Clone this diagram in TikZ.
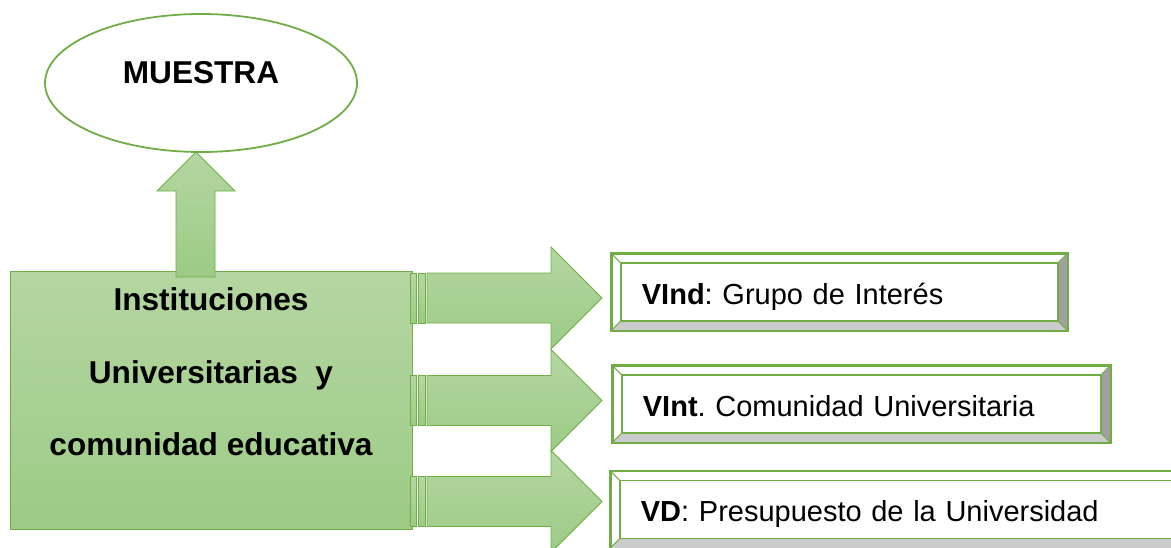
\documentclass[tikz,border=0pt]{standalone}
\usepackage{fontspec}
\setmainfont{Liberation Sans}
\usepackage{tikz}
\usepackage{xcolor}
\usetikzlibrary{calc,shapes.geometric}
\frenchspacing

\definecolor{grnline}{HTML}{70AD47}
\definecolor{grntop}{HTML}{B5D6A2}
\definecolor{grnbot}{HTML}{9CCB85}
\definecolor{bevdark}{HTML}{A0A0A0}
\definecolor{bevlight}{HTML}{CBCBCB}

\newcommand{\bevelframe}[1]{%
  \coordinate (#1nw) at ($(#1.north west)+(10,10)$);
  \coordinate (#1ne) at ($(#1.north east)+(-10,10)$);
  \coordinate (#1se) at ($(#1.south east)+(-10,-10)$);
  \coordinate (#1sw) at ($(#1.south west)+(10,-10)$);
  \fill[bevdark] (#1.north east) -- (#1.south east) -- (#1se) -- (#1ne) -- cycle;
  \fill[bevlight] (#1.south west) -- (#1.south east) -- (#1se) -- (#1sw) -- cycle;
  \draw[grnline, line width=1.5pt] (#1nw) rectangle (#1se);
  \draw[grnline, line width=1pt] (#1.north west) -- (#1nw) (#1.north east) -- (#1ne)
        (#1.south east) -- (#1se) (#1.south west) -- (#1sw);
  \draw[grnline, line width=1.8pt] (#1.north west) rectangle (#1.south east);
}

\begin{document}
\begin{tikzpicture}[x=1pt,y=-1pt,
    bigfont/.style={font=\fontsize{31.6}{72.5}\selectfont\bfseries},
    ovalnode/.style={ellipse, draw=grnline, line width=1.8pt, fill=white, minimum width=312pt, minimum height=138pt, bigfont, text height=23pt, text depth=23pt},
    blocknode/.style={rectangle, draw=grnline, line width=1pt, top color=grntop, bottom color=grnbot, minimum width=402pt, minimum height=258pt},
    bevelnode/.style={rectangle, draw=grnline, line width=1.8pt, fill=white, anchor=west, minimum height=76pt, inner xsep=30pt, inner ysep=0pt, align=left, text height=27pt, text depth=3pt, font=\fontsize{29}{34}\selectfont},
    blockarrow/.style={draw=grnline, line width=0.8pt, top color=grntop, bottom color=grnbot}]
    \useasboundingbox (0,0) rectangle (1171,547);

    \node[ovalnode] (muestra) at (201,83) {MUESTRA};
    \node[blocknode] (inst) at (211,400) {};
    \node[bigfont, align=center, anchor=north, inner sep=0pt] (insttxt) at (211,287.5)
        {Instituciones\\Universitarias\ \ y\\comunidad educativa};

    % flecha hacia la muestra
    \draw[blockarrow] (176,277) -- (176,191) -- (157,191) -- (196,152) -- (235,191) -- (215,191) -- (215,277) -- cycle;

    % flechas rayadas hacia las variables
    \foreach \y in {298,400.5,501.5} {
        \draw[blockarrow] (410,\y-25) rectangle (416,\y+25);
        \draw[blockarrow] (418,\y-25) rectangle (425,\y+25);
        \draw[blockarrow] (427,\y-25) -- (551,\y-25) -- (551,\y-51) -- (602,\y) -- (551,\y+51) -- (551,\y+25) -- (427,\y+25) -- cycle;
    }

    \node[bevelnode, text width=395pt] (vind) at (611,292) {\textbf{VInd}: Grupo de Interés};
    \node[bevelnode, text width=437pt] (vint) at (612,404) {\textbf{VInt}. Comunidad Universitaria};
    \node[bevelnode, text width=530pt] (vd) at (610,509.5) {\textbf{VD}: Presupuesto de la Universidad};

    \bevelframe{vind}
    \bevelframe{vint}
    \bevelframe{vd}

\end{tikzpicture}
\end{document}
